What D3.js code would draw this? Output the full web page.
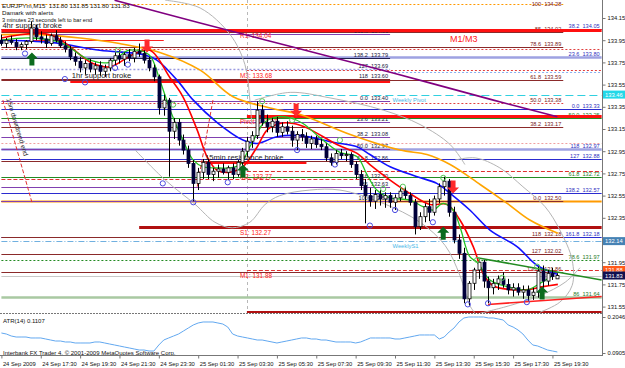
<!DOCTYPE html>
<html>
<head>
<meta charset="utf-8">
<script src="https://d3js.org/d3.v7.min.js"></script>
<style>
body { margin: 0; background: #fff; }
svg { display: block; font-family: "Liberation Sans", Arial, sans-serif; }
.pre { white-space: pre; }
</style>
</head>
<body>
<svg id="chart" width="625" height="368"></svg>
<script>

// ---- data ----
// [open, high, low, close] per M15 bar, first bar = 24 Sep 15:30
const bars = [
  [133.95,134.00,133.90,133.92],[133.92,133.97,133.88,133.95],[133.95,133.99,133.91,133.93],[133.93,133.96,133.86,133.89],
  [133.89,133.93,133.86,133.91],[133.91,133.95,133.87,133.94],[133.94,134.12,133.92,134.06],[134.06,134.09,133.95,133.98],
  [133.98,134.03,133.92,133.96],[133.96,134.00,133.88,133.92],[133.92,134.01,133.90,133.99],[133.99,134.04,133.93,133.95],
  [133.95,133.98,133.88,133.90],[133.90,133.94,133.84,133.87],[133.87,133.90,133.77,133.80],[133.80,133.84,133.72,133.76],
  [133.76,133.80,133.66,133.70],[133.70,133.77,133.64,133.74],[133.74,133.78,133.66,133.69],[133.69,133.75,133.64,133.72],
  [133.72,133.76,133.63,133.67],[133.67,133.73,133.62,133.70],[133.70,133.79,133.67,133.77],[133.77,133.84,133.72,133.81],
  [133.81,133.86,133.74,133.78],[133.78,133.84,133.72,133.82],[133.82,133.87,133.76,133.79],[133.79,133.88,133.75,133.85],
  [133.85,133.92,133.80,133.83],[133.83,133.86,133.74,133.77],[133.77,133.80,133.67,133.70],[133.70,133.73,133.58,133.62],
  [133.62,133.64,133.28,133.34],[133.34,133.46,133.27,133.41],[133.41,133.43,132.72,133.13],[133.13,133.25,133.06,133.21],
  [133.21,133.24,133.00,133.05],[133.05,133.10,132.92,132.96],[132.96,133.00,132.80,132.84],[132.84,132.87,132.50,132.66],
  [132.66,132.80,132.60,132.76],[132.76,132.88,132.70,132.85],[132.85,132.88,132.70,132.74],[132.74,132.80,132.68,132.77],
  [132.77,132.83,132.71,132.79],[132.79,132.84,132.74,132.76],[132.76,132.82,132.69,132.80],[132.80,132.84,132.70,132.74],
  [132.74,132.87,132.72,132.85],[132.85,132.98,132.82,132.95],[132.95,133.08,132.90,133.04],[133.04,133.13,132.98,133.09],
  [133.09,133.40,133.06,133.32],[133.32,133.37,133.18,133.21],[133.21,133.28,133.12,133.17],[133.17,133.25,133.12,133.22],
  [133.22,133.26,133.08,133.12],[133.12,133.21,133.08,133.17],[133.17,133.22,133.10,133.13],[133.13,133.18,132.99,133.05],
  [133.05,133.13,132.96,133.10],[133.10,133.15,133.04,133.08],[133.08,133.12,132.98,133.02],[133.02,133.09,132.97,133.06],
  [133.06,133.09,132.98,133.01],[133.01,133.06,132.96,132.99],[132.99,133.02,132.86,132.89],[132.89,132.93,132.82,132.85],
  [132.85,132.96,132.83,132.93],[132.93,132.97,132.88,132.91],[132.91,132.95,132.86,132.92],[132.92,132.94,132.80,132.83],
  [132.83,132.86,132.70,132.74],[132.74,132.78,132.60,132.64],[132.64,132.70,132.30,132.55],[132.55,132.62,132.45,132.50],
  [132.50,132.60,132.43,132.56],[132.56,132.60,132.46,132.52],[132.52,132.58,132.44,132.55],[132.55,132.58,132.44,132.49],
  [132.49,132.56,132.42,132.53],[132.53,132.64,132.50,132.59],[132.59,132.63,132.52,132.55],[132.55,132.58,132.46,132.49],
  [132.49,132.52,132.20,132.27],[132.27,132.40,132.24,132.36],[132.36,132.48,132.31,132.45],[132.45,132.52,132.32,132.40],
  [132.40,132.55,132.37,132.52],[132.52,132.66,132.48,132.63],[132.63,132.72,132.55,132.68],[132.68,132.70,132.36,132.40],
  [132.40,132.45,132.12,132.15],[132.15,132.20,131.98,132.03],[132.03,132.08,131.58,131.62],[131.62,131.78,131.56,131.76],
  [131.76,131.90,131.70,131.88],[131.88,131.98,131.80,131.95],[131.95,131.97,131.72,131.78],[131.78,131.82,131.58,131.72],
  [131.72,131.80,131.66,131.76],[131.76,131.83,131.70,131.80],[131.80,131.86,131.72,131.75],[131.75,131.80,131.66,131.70],
  [131.70,131.76,131.64,131.72],[131.72,131.76,131.65,131.68],[131.68,131.74,131.62,131.70],[131.70,131.74,131.60,131.65],
  [131.65,131.72,131.61,131.68],[131.68,131.91,131.63,131.87],[131.87,131.92,131.72,131.78],[131.78,131.88,131.74,131.85],
  [131.85,131.90,131.79,131.82],[131.80,131.85,131.80,131.83]
];

const atr = [
  .1539,.1507,.1444,.1412,.1412,.1412,.1381,.1381,.1381,.1349,.1317,.1285,.1285,.1254,.1254,.1222,.1222,.1222,.1222,.1254,
  .1254,.1222,.1190,.1159,.1127,.1095,.1064,.1032,.1000,.1000,.0968,.0968,.1159,.1317,.1381,.1444,.1507,.1602,.1698,.1793,
  .1856,.1888,.1888,.1888,.1856,.1824,.1729,.1507,.1444,.1412,.1381,.1349,.1317,.1317,.1285,.1254,.1222,.1254,.1285,.1317,
  .1349,.1381,.1381,.1349,.1349,.1317,.1317,.1285,.1254,.1254,.1254,.1254,.1222,.1254,.1317,.1381,.1381,.1381,.1381,.1381,
  .1349,.1349,.1381,.1412,.1444,.1476,.1476,.1476,.1476,.1349,.1412,.1571,.1698,.1888,.2015,.2046,.2046,.2046,.2046,.2015,
  .2015,.1983,.1951,.1793,.1729,.1634,.1507,.1317,.1159,.1127,.1064,.1000,.0968,.0937
];

const timeLabels = ["24 Sep 2009","24 Sep 17:30","24 Sep 19:30","24 Sep 21:30","24 Sep 23:30","25 Sep 01:30",
  "25 Sep 03:30","25 Sep 05:30","25 Sep 07:30","25 Sep 09:30","25 Sep 11:30","25 Sep 13:30","25 Sep 15:30",
  "25 Sep 17:30","25 Sep 19:30"];
const priceTicks = [134.15,133.95,133.75,133.55,133.35,133.15,132.95,132.75,132.55,132.35,131.95,131.75,131.55];
const atrTicks = [0.2046, 0.0905];

// indicator lines, [bar, price]
const maPurple = [[23,134.31],[40,134.11],[60,133.88],[80,133.65],[100,133.41],[113,133.26]];
const maOrange = [[0,134.00],[7.8,134.00],[16,133.97],[24,133.92],[32.2,133.84],[40.4,133.68],[47.1,133.44],[54.6,133.34],
  [60.7,133.28],[70.9,133.10],[81,132.96],[86.5,132.92],[91.2,132.83],[97.3,132.65],[102.8,132.48],[107.4,132.33],[113.1,132.21]];
const maBlue = [[0,133.95],[10,133.93],[20,133.86],[28.8,133.82],[31.6,133.77],[35.7,133.59],[39,133.41],[43.8,133.21],
  [49.1,133.05],[52,133.02],[56,133.08],[60.7,133.09],[67.4,133.03],[72.3,132.99],[74.9,132.92],[79,132.81],[84.5,132.72],
  [88.5,132.66],[91.2,132.57],[95.2,132.42],[99.3,132.24],[104.8,132.09],[108.9,131.92],[113.1,131.84]];
const maRed = [[0,133.97],[9.9,134.00],[18.6,133.74],[22.1,133.71],[26.7,133.82],[30.2,133.86],[34.3,133.61],[36.9,133.44],
  [39.8,133.14],[41.8,132.90],[43.8,132.78],[46.5,132.76],[49.1,132.81],[52,132.99],[54,133.14],[56.6,133.20],[59.3,133.20],
  [62.1,133.16],[68.2,133.01],[72.3,132.93],[74.9,132.83],[79,132.69],[83,132.57],[87.1,132.47],[90.6,132.47],[93.2,132.33],
  [95.9,132.09],[97.9,131.85],[99.9,131.74],[106,131.70],[110.1,131.73],[113.1,131.75]];
const maGreen = [[0,133.95],[6,133.97],[12,133.93],[18,133.77],[22,133.75],[26,133.86],[30,133.82],[32.2,133.59],[34.3,133.32],
  [36.9,133.05],[39,132.87],[41,132.81],[43.8,132.80],[46.5,132.80],[48.5,132.83],[50.5,132.99],[52,133.11],[53.2,133.20],
  [56,133.26],[58.7,133.25],[61.3,133.20],[64.8,133.07],[68.8,132.94],[72.3,132.90],[74.3,132.74],[76.3,132.60],[79,132.53],
  [83,132.51],[85.7,132.45],[87.7,132.42],[89.8,132.48],[91.8,132.42],[93.2,132.27],[95.2,132.00],[96.7,131.95],[99.3,131.79],
  [102.8,131.73],[106.8,131.70],[109.5,131.76],[112.1,131.83]];

// grey fibonacci arcs
const arcs = [
  [[33.3,134.31],[40.4,134.24],[46.5,134.00],[49.5,133.73],[50.5,133.41],[50.9,133.19]],
  [[51.5,133.41],[58.7,133.48],[66.8,133.43],[77.6,133.32],[85.1,133.19],[91.2,133.01],[94.2,132.83]],
  [[92.2,132.87],[96.3,132.89],[101.3,132.80],[106,132.63],[110.5,132.45],[113.5,132.24],[116,131.97],[116,131.74],[113.5,131.59],[109.5,131.50]],
  [[27.2,132.96],[33.3,132.69],[39.4,132.47],[43.4,132.31],[46.9,132.26],[50.5,132.31],[53.6,132.47],[56.6,132.55],[62.7,132.60],
   [68.8,132.60],[77.6,132.48],[85.1,132.31],[90.2,132.10],[93.2,131.83],[95.2,131.56],[96.3,131.49]],
  [[97.3,131.49],[103.4,131.56],[109.5,131.65],[114.6,131.77],[117.6,131.90]]
];

// fibonacci objects: [price, level, kind]
const fibRight = [[134.05,'38.2','blue'],[133.80,'23.6','lav'],[133.33,'0.0','blue'],[132.97,'118','lav'],
  [132.88,'127','blue'],[132.57,'138.2','blue'],[132.18,'161.8','blue']];
const fibGreen = [[133.25,'50.0','green'],[132.72,'61.8','green'],[131.97,'78.6','greenDot'],[131.64,'86','greenThick']];
const fibBrown = [[134.28,'100','orangeDot'],[134.02,'85','brown'],[133.89,'78.6','brown'],[133.59,'61.8','brown'],
  [133.38,'50.0','redDot'],[133.17,'38.2','brown'],[132.50,'0.0','brown'],[132.18,'118','brown'],[132.02,'127','brown'],
  [131.86,'138.2','brown']];
const fibMid = [[134.01,'161.8','purple'],[133.79,'138.2','navy'],[133.69,'127','lavDot'],[133.60,'118','brown'],
  [133.40,'0.0','purple'],[133.21,'23.6','purple'],[133.08,'38.2','purple'],[132.97,'50.0','purple'],[132.86,'61.8','brown'],
  [132.70,'78.6','redDash'],[132.63,'86','purple'],[132.50,'100','purple']];
const fibGroups = [
  {rows: fibRight, from: 0, to: 122, text: '#3030c0'},
  {rows: fibGreen, from: 0, to: 122, text: '#1f7a1f'},
  {rows: fibBrown, from: 0, to: 114.2, text: '#7a2020'},
  {rows: fibMid, from: 0, to: 79, text: '#202040'}
];

// pivot levels: [name, price, first bar, kind]
const pivots = [['R1',134.04,0,'redThick'],['M3',133.68,49.9,'redDot'],['Pivot',133.27,49.9,'redThick'],
  ['M2',132.77,49.9,'redDash'],['S1',132.27,28,'darkRed'],['M1',131.88,49.9,'redDash'],['S2',131.50,49.9,'darkRed']];

// other horizontal lines: [price, from bar, to bar, kind]
const extraLines = [[133.58,14,79,'redThick'],[132.85,41.5,62,'redThick'],[133.46,0,122,'cyanDash'],
  [132.14,0,122,'cyanDashDot'],[133.66,79,122,'ltBlueDot'],[133.87,0,122,'redDot'],[133.02,0,122,'pinkDot'],
  [131.83,0,122,'bid'],[133.95,0,33,'red'],[132.50,0,122,'orange']];

const weekly = [['Weekly Pivot',79.5,133.46],['WeeklyS1',79.5,132.14]];
const notes = [['4hr support broke',0.2,134.06],['1hr support broke',14.3,133.61],['15min resistance broke',41.4,132.87]];
const trendLines = [[[96.7,131.99],[122,131.79],'green'],[[98.9,131.57],[122,131.64],'red'],
  [[0.3,133.41],[6.2,132.49],'redDash'],[[43,133.41],[39.8,132.63],'redDash']];
const priceTags = [[133.46,'cyan'],[132.14,'steel'],[131.88,'orange'],[131.83,'navy']];

const sellArrows = [[29.6,133.84],[59.9,133.26],[91.8,132.57]];
const buyArrows = [[6.2,133.84],[49.1,132.83],[89.8,132.27],[109.9,131.73]];
const lowMarks = [[4.8,133.83],[12.9,133.60],[17,133.57],[23.1,133.70],[25.7,133.73],[32.8,132.66],[39,132.49],[46,132.67],
  [60.1,132.96],[67.8,132.83],[74.9,132.28],[80,132.42],[87.7,132.31],[94.8,131.57],[98.9,131.58],[106.8,131.59]];
const highMarks = [[23.7,133.86],[34.9,133.37],[53,133.40],[59.1,133.23],[68.8,133.05],[77.6,132.61],[81.6,132.63],
  [89.8,132.71],[96.7,131.97],[101.8,131.81],[108.9,131.91]];
const daySeparator = 49.9;

// ---- styles ----
const lineStyles = {
  blue: {c: '#2b2bd0', w: 1}, lav: {c: '#9ea2e2', w: 2.5}, green: {c: '#228b22', w: 1},
  greenDot: {c: '#228b22', w: 1, d: '2,2'}, greenThick: {c: '#a9c9a2', w: 2.5}, brown: {c: '#8b2a2a', w: 1},
  orangeDot: {c: '#ff9900', w: 1, d: '2,2'}, orange: {c: '#ff9a00', w: 2}, purple: {c: '#8040b0', w: 1},
  navy: {c: '#202050', w: 1}, lavDot: {c: '#9a9ae0', w: 1.5, d: '2,2'}, redDot: {c: '#e04040', w: 1, d: '2,2'},
  redDash: {c: '#e03030', w: 1, d: '4,2'}, redThick: {c: '#ff1010', w: 3}, darkRed: {c: '#b01010', w: 3},
  red: {c: '#ff2020', w: 1}, pinkDot: {c: '#f0a0a0', w: 1, d: '2,2'}, cyanDash: {c: '#30d0e0', w: 1, d: '8,4'},
  cyanDashDot: {c: '#70b0e0', w: 1, d: '6,2,1,2'}, ltBlueDot: {c: '#8ab0f0', w: 1, d: '2,2'}, bid: {c: '#c8c8c8', w: 1}
};
const tagColors = {cyan: '#22d8e8', steel: '#4682b4', orange: '#ff5a1a', navy: '#101050'};

// ---- scales ----
const plotRight = 602, mainBottom = 313, atrTop = 315, atrBottom = 355;
const x = d3.scaleLinear().domain([0, 122]).range([1.4, 601.64]);
const y = d3.scaleLinear().domain([131.55, 134.15]).range([306.6, 18]);
const yAtr = d3.scaleLinear().domain([0.0905, 0.2046]).range([353, 317]);

const svg = d3.select('#chart');
svg.append('rect').attr('width', 625).attr('height', 368).attr('fill', '#fff');

const defs = svg.append('defs');
defs.append('clipPath').attr('id', 'clipMain').append('rect').attr('x', 0).attr('y', 0).attr('width', plotRight).attr('height', mainBottom);
defs.append('clipPath').attr('id', 'clipAtr').append('rect').attr('x', 0).attr('y', atrTop).attr('width', plotRight).attr('height', atrBottom - atrTop);

const main = svg.append('g').attr('clip-path', 'url(#clipMain)');

function styled(sel, kind) {
  const s = lineStyles[kind];
  return sel.attr('stroke', s.c).attr('stroke-width', s.w).attr('stroke-dasharray', s.d || null).attr('fill', 'none');
}
function hLine(g, price, from, to, kind) {
  const py = Math.round(y(price)) + 0.5;
  styled(g.append('line'), kind).attr('x1', x(from)).attr('x2', x(to)).attr('y1', py).attr('y2', py);
}

// day separator
main.append('line').attr('x1', Math.round(x(daySeparator)) + 0.5).attr('x2', Math.round(x(daySeparator)) + 0.5)
  .attr('y1', 0).attr('y2', mainBottom).attr('stroke', '#b8b8b8').attr('stroke-dasharray', '3,3');

// horizontal levels
const levels = main.append('g');
extraLines.forEach(d => hLine(levels, d[0], d[1], d[2], d[3]));
fibGroups.forEach(grp => {
  grp.rows.forEach(r => {
    hLine(levels, r[0], grp.from, grp.to, r[2]);
    levels.append('text').attr('class', 'pre')
      .attr('x', x(grp.to) - 2).attr('y', Math.max(6, Math.round(y(r[0])) - 1.5))
      .attr('text-anchor', 'end').attr('font-size', 5.6).attr('fill', grp.text)
      .text(r[1] + '  ' + r[0].toFixed(2));
  });
});
pivots.forEach(p => {
  hLine(levels, p[1], p[2], 122, p[3]);
  levels.append('text').attr('x', x(48.5)).attr('y', y(p[1]) + 8)
    .attr('font-size', 6.4).attr('fill', '#ff2020').text(p[0] + ': ' + p[1].toFixed(2));
});
weekly.forEach(w => {
  levels.append('text').attr('x', x(w[1])).attr('y', y(w[2]) + 7)
    .attr('font-size', 5.8).attr('fill', '#4ab8e8').text(w[0]);
});

// grey arcs
const curve = d3.line().x(d => x(d[0])).y(d => y(d[1])).curve(d3.curveCatmullRom);
main.append('g').selectAll('path').data(arcs).join('path')
  .attr('d', curve).attr('fill', 'none').attr('stroke', '#b4b4b4').attr('stroke-width', 1);

// moving averages
const maList = [[maPurple, '#800080', 1.6], [maOrange, '#ffa500', 1.6], [maBlue, '#1010ff', 1.6], [maRed, '#ff0000', 1.6], [maGreen, '#22c322', 1.3]];
main.append('g').selectAll('path').data(maList).join('path')
  .attr('d', d => curve(d[0])).attr('fill', 'none').attr('stroke', d => d[1]).attr('stroke-width', d => d[2]);

// trend lines
trendLines.forEach(t => {
  styled(main.append('line'), t[2]).attr('x1', x(t[0][0])).attr('y1', y(t[0][1])).attr('x2', x(t[1][0])).attr('y2', y(t[1][1]))
    .attr('stroke-width', t[2] === 'redDash' ? 1 : 1.5);
});

// comments
notes.forEach(n => {
  main.append('text').attr('x', x(n[1])).attr('y', y(n[2])).attr('font-size', 7.6).attr('fill', '#222').text(n[0]);
});
main.append('text').attr('x', x(91.2)).attr('y', y(133.93)).attr('font-size', 9).attr('fill', '#ff2020').text('M1/M3');
main.append('text').attr('transform', `translate(${x(1)},${y(133.42)}) rotate(73)`)
  .attr('font-size', 6.8).attr('fill', '#333').text('15m downtrend end');

// candles
const candles = main.append('g');
candles.selectAll('line').data(bars).join('line')
  .attr('x1', (d, i) => Math.round(x(i)) + 0.5).attr('x2', (d, i) => Math.round(x(i)) + 0.5)
  .attr('y1', d => y(d[1])).attr('y2', d => y(d[2])).attr('stroke', '#000').attr('stroke-width', 1);
candles.selectAll('rect').data(bars).join('rect')
  .attr('x', (d, i) => Math.round(x(i)) - 1)
  .attr('y', d => y(Math.max(d[0], d[3])))
  .attr('width', 3)
  .attr('height', d => Math.max(1, Math.abs(y(d[0]) - y(d[3]))))
  .attr('fill', d => d[3] >= d[0] ? '#fff' : '#00003a')
  .attr('stroke', d => d[3] >= d[0] ? '#000' : '#00003a').attr('stroke-width', 0.8);

// fractal marks
main.append('g').selectAll('circle').data(lowMarks).join('circle')
  .attr('cx', d => x(d[0])).attr('cy', d => y(d[1])).attr('r', 2.6)
  .attr('fill', 'none').attr('stroke', '#4a4ae0').attr('stroke-width', 1);
main.append('g').selectAll('circle').data(highMarks).join('circle')
  .attr('cx', d => x(d[0])).attr('cy', d => y(d[1])).attr('r', 2.6)
  .attr('fill', 'none').attr('stroke', '#5ac85a').attr('stroke-width', 1);

// signal arrows
const downArrow = 'M0,0 L-6,-6 L-2.5,-6 L-2.5,-13 L2.5,-13 L2.5,-6 L6,-6 Z';
const upArrow = 'M0,0 L-6,6 L-2.5,6 L-2.5,13 L2.5,13 L2.5,6 L6,6 Z';
main.append('g').selectAll('path').data(sellArrows).join('path')
  .attr('d', downArrow).attr('transform', d => `translate(${x(d[0])},${y(d[1])})`).attr('fill', '#ff2a2a');
main.append('g').selectAll('path').data(buyArrows).join('path')
  .attr('d', upArrow).attr('transform', d => `translate(${x(d[0])},${y(d[1])})`).attr('fill', '#0b6b1e');

// header
const head = svg.append('g').attr('fill', '#111');
head.append('text').attr('class', 'pre').attr('x', 2).attr('y', 8).attr('font-size', 6.2).text('EURJPYm,M15  131.80 131.85 131.80 131.83');
head.append('text').attr('x', 2).attr('y', 15).attr('font-size', 6.2).text('Damark with alerts');
head.append('text').attr('x', 2).attr('y', 21.5).attr('font-size', 5.6).text('3 minutes 23 seconds left to bar end');

// ATR panel
const atrG = svg.append('g').attr('clip-path', 'url(#clipAtr)');
atrG.append('path').datum(atr)
  .attr('d', d3.line().x((d, i) => x(i)).y(d => yAtr(d)))
  .attr('fill', 'none').attr('stroke', '#62a8f0').attr('stroke-width', 1);
svg.append('text').attr('x', 3).attr('y', 323).attr('font-size', 6).attr('fill', '#111').text('ATR(14) 0.1107');
svg.append('text').attr('x', 3).attr('y', 355).attr('font-size', 6).attr('fill', '#111')
  .text('Interbank FX Trader 4, \u00a9 2001-2009 MetaQuotes Software Corp.');

// frames
svg.append('line').attr('x1', 0).attr('x2', plotRight).attr('y1', mainBottom + 0.5).attr('y2', mainBottom + 0.5)
  .attr('stroke', '#777').attr('stroke-dasharray', '2,1');
svg.append('line').attr('x1', 0).attr('x2', plotRight).attr('y1', atrBottom + 0.5).attr('y2', atrBottom + 0.5).attr('stroke', '#777');
svg.append('line').attr('x1', plotRight + 0.5).attr('x2', plotRight + 0.5).attr('y1', 0).attr('y2', atrBottom + 1).attr('stroke', '#777');

// price axis
const yAxis = svg.append('g').attr('transform', `translate(${plotRight + 0.5},0)`)
  .call(d3.axisRight(y).tickValues(priceTicks).tickSize(3).tickPadding(2).tickFormat(d3.format('.2f')));
const atrAxis = svg.append('g').attr('transform', `translate(${plotRight + 0.5},0)`)
  .call(d3.axisRight(yAtr).tickValues(atrTicks).tickSize(3).tickPadding(2).tickFormat(d3.format('.4f')));
[yAxis, atrAxis].forEach(a => {
  a.select('.domain').remove();
  a.selectAll('line').attr('stroke', '#777');
  a.selectAll('text').attr('font-size', 5.8).attr('fill', '#111').attr('font-family', '"Liberation Sans", Arial, sans-serif');
});

// price tags on the axis
const tags = svg.append('g');
priceTags.forEach(t => {
  const ty = y(t[0]);
  tags.append('rect').attr('x', plotRight + 1).attr('y', ty - 4).attr('width', 22).attr('height', 8).attr('fill', tagColors[t[1]]);
  tags.append('text').attr('x', plotRight + 3).attr('y', ty + 2.2).attr('font-size', 5.8).attr('fill', '#fff').text(t[0].toFixed(2));
});

// time axis
const xAxis = svg.append('g').attr('transform', `translate(0,${atrBottom + 0.5})`)
  .call(d3.axisBottom(x).tickValues(d3.range(0, 113, 8)).tickSize(3).tickPadding(3).tickFormat((d, i) => timeLabels[i]));
xAxis.select('.domain').remove();
xAxis.selectAll('line').attr('stroke', '#777');
xAxis.selectAll('text').attr('text-anchor', 'start').attr('dx', 1).attr('font-size', 5.8).attr('fill', '#111')
  .attr('font-family', '"Liberation Sans", Arial, sans-serif');

</script>
</body>
</html>
